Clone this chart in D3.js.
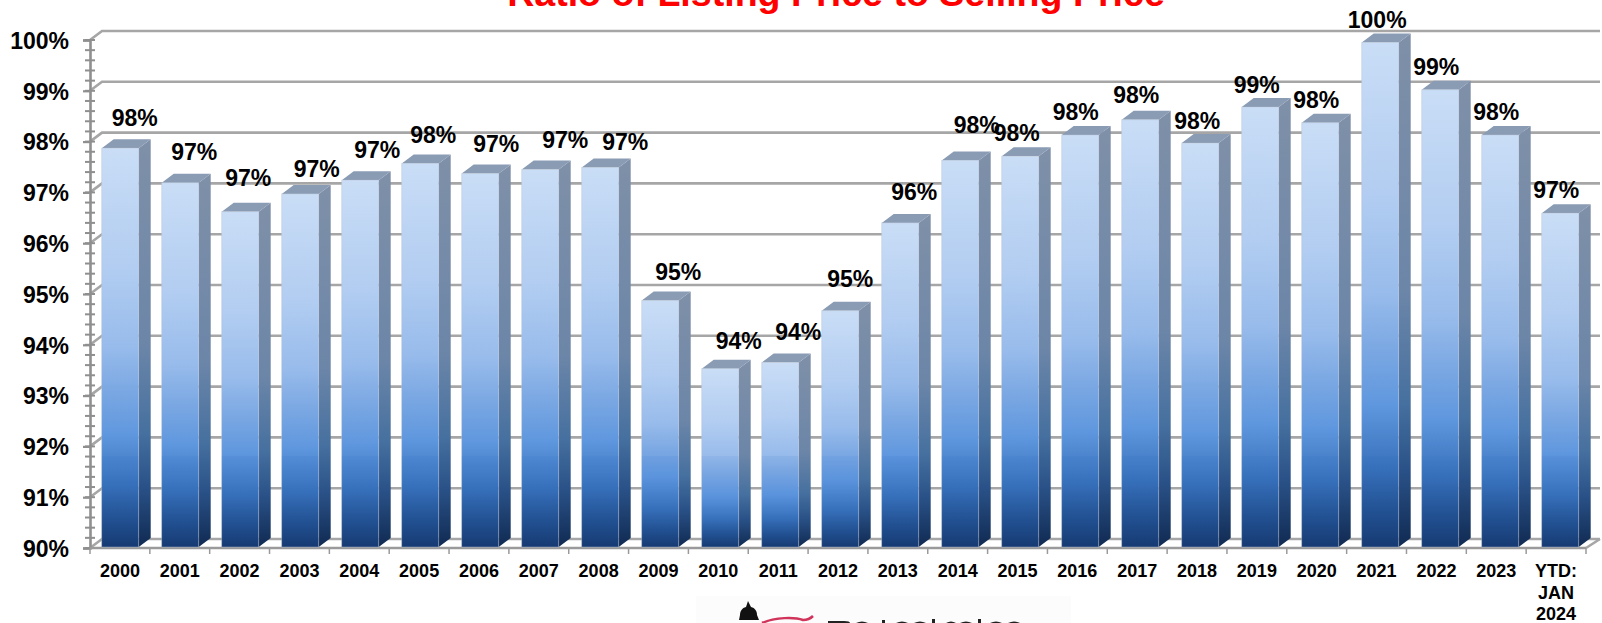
<!DOCTYPE html>
<html><head><meta charset="utf-8">
<script src="https://cdn.jsdelivr.net/npm/d3@7"></script>
<style>
html,body{margin:0;padding:0;background:#fff;overflow:hidden}
svg{display:block}
text{font-family:"Liberation Sans",Arial,sans-serif;font-weight:700;fill:#000}
</style></head><body>
<svg id="c" width="1602" height="623"></svg>
<script>
const categories = ["2000","2001","2002","2003","2004","2005","2006","2007","2008","2009","2010","2011","2012","2013","2014","2015","2016","2017","2018","2019","2020","2021","2022","2023","YTD: JAN 2024"];
const ratios = [97.87,97.19,96.62,96.97,97.24,97.57,97.37,97.45,97.49,94.87,93.53,93.65,94.67,96.40,97.63,97.71,98.13,98.43,97.97,98.68,98.37,99.95,99.02,98.13,96.59];
const yTicks = [90,91,92,93,94,95,96,97,98,99,100];
const titleText = "Ratio of Listing Price to Selling Price";
// hand placement of the data labels relative to each bar (the source chart nudged them)
const labelDx = [14.5,14,8,16.5,17,13,16,25,25,18,18.5,18,10,14,16.5,-3.5,-4.5,-4,-3,-3.5,-4,-3,-4,-4,-4];
const labelDy = [-22,-23,-26,-17,-22,-20.5,-21.7,-21.6,-17.6,-20.4,-20,-22.7,-23.6,-22.7,-27.8,-15.5,-14.5,-16.5,-14.4,-14.5,-14.6,-14.7,-15,-15,-15];

const svg = d3.select("#c");
const pLeft = 90, pRight = 1586, pBottom = 548, pTop = 40, depthX = 12, depthY = 9;
const y = d3.scaleLinear().domain([90,100]).range([pBottom, pTop]);
const xAxisScale = d3.scaleBand().domain(categories).range([pLeft, pRight]);
const xBar = d3.scaleBand().domain(categories).range([101.7, 101.7 + 60 * categories.length]);
const barW = 37;

const defs = svg.append("defs");
function grad(id, stops){
  const g = defs.append("linearGradient").attr("id", id).attr("x1",0).attr("x2",0).attr("y1",0).attr("y2",1);
  stops.forEach(s => g.append("stop").attr("offset",s[0]).attr("stop-color",s[1]));
}
grad("front",[[0,"#c9ddf6"],[.3,"#b2cdf1"],[.5,"#97bbeb"],[.6,"#7da9e3"],[.72,"#5f97de"],[.84,"#3a73bc"],[.93,"#23508f"],[1,"#16386c"]]);
grad("side",[[0,"#7f90a8"],[.5,"#6c86a8"],[.72,"#46709f"],[.85,"#2a5288"],[1,"#102a52"]]);

// title (clipped by the top of the picture, as in the reference)
svg.append("text").attr("x",836).attr("y",6).attr("text-anchor","middle")
  .attr("font-size",37.6).style("fill","#ff0000").text(titleText);

// back wall gridlines + left wall diagonals
const gridColor = "#a6a6a6";
const grid = svg.append("g").attr("stroke",gridColor).attr("stroke-width",2.6).attr("fill","none");
grid.selectAll("path").data(yTicks).join("path")
  .attr("d", v => `M${pLeft},${y(v)}L${pLeft+depthX},${y(v)-depthY}L1600,${y(v)-depthY}`);
// floor right edge
grid.append("path").attr("d",`M${pRight},${pBottom}L1600,${pBottom-depthY}`);

// y axis: major ticks via d3 axis, plus minor ticks
const minor = d3.range(90,100.001,0.2);
svg.append("g").attr("stroke","#8f8f8f").attr("stroke-width",2)
  .selectAll("line").data(minor).join("line")
  .attr("x1",85).attr("x2",95).attr("y1",v=>y(v)).attr("y2",v=>y(v));
const yAxis = svg.append("g").attr("transform",`translate(${pLeft},0)`)
  .call(d3.axisLeft(y).tickValues(yTicks).tickFormat(v=>v+"%").tickSize(7).tickPadding(14));
yAxis.select(".domain").attr("stroke","#8f8f8f").attr("stroke-width",2.6);
yAxis.selectAll(".tick line").attr("stroke","#8f8f8f").attr("stroke-width",2.2);
yAxis.selectAll("text").attr("font-size",23).style("font-family",'"Liberation Sans",Arial,sans-serif').style("font-weight",700).attr("dy","0.36em");

// x axis
svg.append("line").attr("x1",pLeft).attr("x2",pRight).attr("y1",pBottom).attr("y2",pBottom)
  .attr("stroke","#9a9a9a").attr("stroke-width",2.6);
svg.append("g").attr("stroke","#9a9a9a").attr("stroke-width",1.5)
  .selectAll("line").data(categories.concat(["end"])).join("line")
  .attr("x1",(c,i)=>i<categories.length?xAxisScale(c):pRight)
  .attr("x2",(c,i)=>i<categories.length?xAxisScale(c):pRight)
  .attr("y1",pBottom).attr("y2",pBottom+6);

// category labels
const catG = svg.append("g").attr("text-anchor","middle").attr("font-size",18);
categories.forEach(c=>{
  const cx = xAxisScale(c)+xAxisScale.bandwidth()/2;
  const t = catG.append("text").attr("x",cx).attr("y",577);
  if(c.startsWith("YTD")){
    ["YTD:","JAN","2024"].forEach((s,i)=>t.append("tspan").attr("x",cx).attr("y",577+i*21.5).text(s));
  } else t.text(c);
});

// bars
const bars = svg.append("g").selectAll("g").data(categories).join("g");
const X = c => xBar(c), V = (c,i) => y(ratios[i]);
bars.append("path").attr("fill","url(#side)")
  .attr("d",(c,i)=>{const x=X(c)+barW,t=V(c,i);return `M${x},${t}L${x+depthX},${t-depthY}L${x+depthX},${pBottom-depthY-1}L${x},${pBottom-1}Z`;});
bars.append("path").attr("fill","#8a9bb4")
  .attr("d",(c,i)=>{const x=X(c),t=V(c,i);return `M${x},${t}L${x+depthX},${t-depthY}L${x+barW+depthX},${t-depthY}L${x+barW},${t}Z`;});
bars.append("rect").attr("fill","url(#front)").attr("x",c=>X(c)).attr("y",(c,i)=>V(c,i))
  .attr("width",barW).attr("height",(c,i)=>pBottom-1-V(c,i))
  .attr("stroke","#b8c4d6").attr("stroke-opacity",.55).attr("stroke-width",.8);
// faint horizontal band seam crossing the lower part of every bar
bars.append("rect").attr("fill","#1d5fc4").attr("opacity",.07).attr("x",c=>X(c)).attr("y",456)
  .attr("width",barW).attr("height",pBottom-1-456);

// data labels
svg.append("g").attr("text-anchor","middle").attr("font-size",23)
  .selectAll("text").data(categories).join("text")
  .attr("x",(c,i)=>X(c)+barW/2+labelDx[i]).attr("y",(c,i)=>V(c,i)+labelDy[i])
  .text((c,i)=>Math.round(ratios[i])+"%");

// cropped logo at the bottom edge
const logo = svg.append("g");
logo.append("rect").attr("x",696).attr("y",596).attr("width",375).attr("height",27).attr("fill","#fcfcfc");
logo.append("path").attr("fill","#111")
  .attr("d","M748,601L751,607C755,608 757,611 757,615L759,620L739,620L740,615C740,611 742,608 746,607Z");
logo.append("path").attr("fill","none").attr("stroke","#d0345a").attr("stroke-width",2.5)
  .attr("d","M762,623C775,617 795,617 803,620C808,620 811,618 813,616");
logo.append("path").attr("fill","#222")
  .attr("d","M828,621h16q6,0 6,2h-22ZM856,623q6,-3 12,0ZM882,620h3v3h-3ZM896,623q6,-3 12,0ZM914,623q6,-3 12,0ZM932,619h3v4h-3ZM946,623q5,-3 10,0ZM960,623q6,-3 12,0ZM978,619h3v4h-3ZM990,623q6,-3 12,0ZM1008,623q6,-3 12,0Z");
</script>
</body></html>
